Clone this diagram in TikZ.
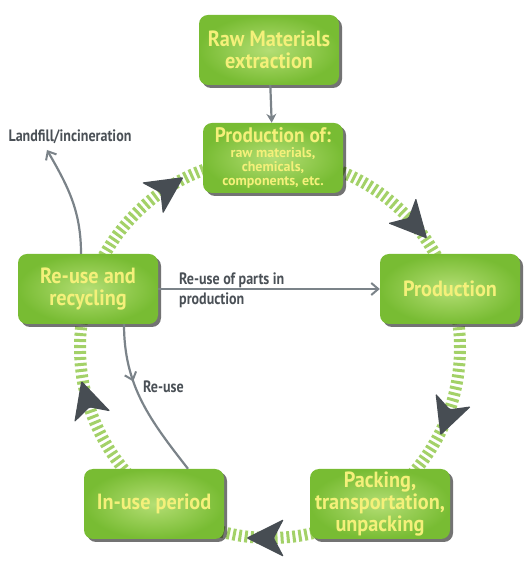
\documentclass[tikz,border=0pt]{standalone}
\usepackage{fontspec}
\usetikzlibrary{arrows.meta,shadows,calc,decorations.markings}
\newfontfamily\condfont[FakeStretch=0.92]{PT Sans}
\newfontfamily\labelfont[FakeStretch=0.85]{PT Sans}
\newfontfamily\plainfont{PT Sans}
\newcommand\subtext{\plainfont\bfseries\fontsize{14}{14}\selectfont}
\definecolor{boxgreen}{HTML}{78BC33}
\definecolor{boxlight}{HTML}{B4DE74}
\definecolor{boxtext}{HTML}{F4F07A}
\definecolor{ringgreen}{HTML}{A3D168}
\definecolor{headgray}{HTML}{474D53}
\definecolor{linegray}{HTML}{7B8389}
\definecolor{labelgray}{HTML}{4A5056}

\tikzset{
  stage/.style={rounded corners=9pt, minimum width=140pt, minimum height=70pt,
    inner color=boxlight, outer color=boxgreen, text=boxtext, align=center,
    inner sep=2pt, font=\condfont\bfseries\fontsize{22}{22}\selectfont,
    drop shadow={shadow xshift=3pt, shadow yshift=-3pt, fill=black, opacity=0.55}},
  note/.style={text=labelgray, font=\labelfont\bfseries\fontsize{16.5}{20}\selectfont, inner sep=0pt},
  conn/.style={draw=linegray, line width=2.2pt},
  ring/.style={draw=ringgreen, line width=12pt, dash pattern=on 3pt off 3pt},
  ringhead/.pic={\fill[headgray, rounded corners=1.5pt]
    (24,0) -- (-14,19) -- (-4,0) -- (-14,-19) -- cycle;},
  midbarb/.style={postaction=decorate, decoration={markings,
    mark=at position #1 with {\arrow{Straight Barb[length=7pt,width=12pt,line width=2pt]}}}}
}

\begin{document}
\begin{tikzpicture}[x=1pt, y=1pt]
  \useasboundingbox (0,0) rectangle (524,561);

  % the life-cycle ring and its direction marks
  \coordinate (ctr) at (270,213);
  \draw[ring] (ctr) circle (190);
  \foreach \a in {42,-20,-90,-163,124}
    \pic[rotate=\a-90] at ([shift={(\a:190)}]ctr) {ringhead};

  % stages
  \node[stage] (raw)   at (269,511) {Raw Materials\\extraction};
  \node[stage, font=\condfont\bfseries\fontsize{21}{18}\selectfont] (po) at (273,403)
    {Production of:\\[-3pt]{\subtext raw materials,}\\[-4pt]{\subtext chemicals,}\\[-4pt]{\subtext components, etc.}};
  \node[stage] (reuse) at (88,272)  {Re-use and\\recycling};
  \node[stage] (prod)  at (450,272) {Production};
  \node[stage] (pack)  at (380,57)  {Packing,\\transportation,\\unpacking};
  \node[stage] (inuse) at (154,57)  {In-use period};

  % side labels
  \node[note] (land) at (70,424) {Landfill/incineration};
  \node[note, anchor=west, align=left] (parts) at (179,271) {Re-use of parts in\\production};
  \node[note, anchor=west] (again) at (143,174) {Re-use};
  \coordinate (landtip) at (47,411);

  % flows
  \draw[conn, -{Stealth[length=9pt,width=10pt]}] (raw) -- (po);
  \draw[conn, -{Straight Barb[length=7pt,width=12pt,line width=2pt]}]
    ([xshift=-7pt]reuse.north) to[out=90, in=-60] (landtip);
  \draw[conn, -{Straight Barb[length=7pt,width=12pt,line width=2pt]}]
    (reuse.east) -- (prod.west);
  \draw[conn, midbarb=0.36]
    ([xshift=36pt]reuse.south) to[out=-90, in=128] ([xshift=34pt]inuse.north);
\end{tikzpicture}
\end{document}
